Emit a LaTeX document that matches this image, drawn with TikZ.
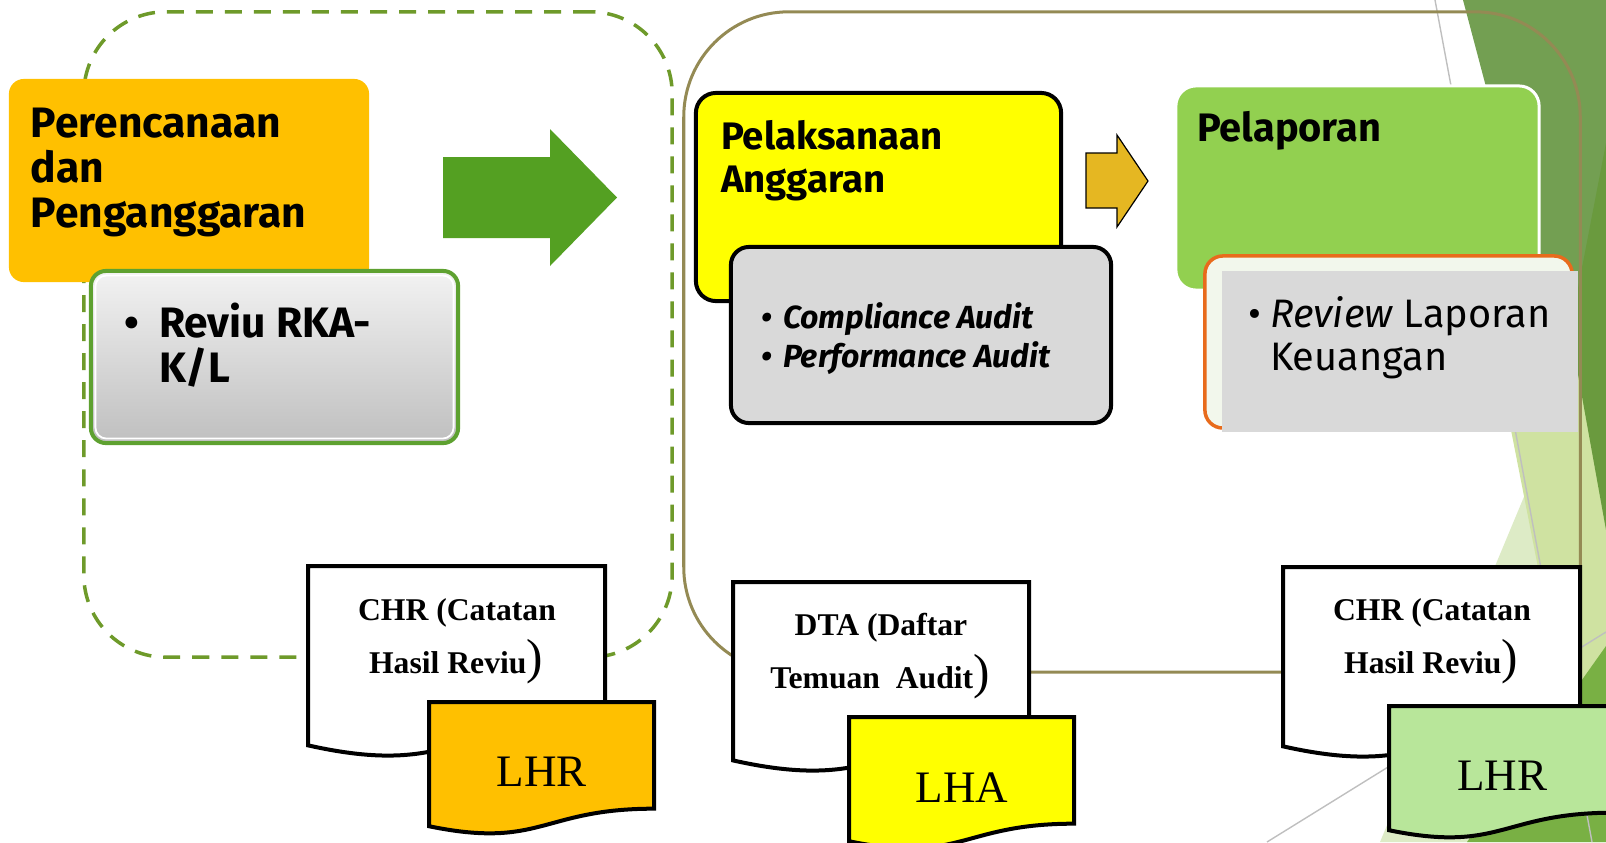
\documentclass[tikz,border=0pt]{standalone}
\usepackage{fontspec}
\setmainfont{Fira Sans}
\newfontfamily\serifdoc{Liberation Serif}
\usetikzlibrary{calc}

% palette
\definecolor{cOrange}{HTML}{FFC000}
\definecolor{cYellow}{HTML}{FFFF00}
\definecolor{cGreen}{HTML}{92D050}
\definecolor{cGray}{HTML}{D9D9D9}
\definecolor{cArrow}{HTML}{54A022}
\definecolor{cGold}{HTML}{E5B722}
\definecolor{cOlive}{HTML}{948A54}
\definecolor{cDash}{HTML}{6E9A2A}
\definecolor{cFrameGreen}{HTML}{5EA130}
\definecolor{cOrangeLine}{HTML}{E86B1C}
\definecolor{cPaleFill}{HTML}{F2F7EC}
\definecolor{cLHRgreen}{HTML}{B8E69A}
\definecolor{bgA}{HTML}{739F52}
\definecolor{bgB}{HTML}{6A9A3E}
\definecolor{bgP1}{HTML}{DDEBC6}
\definecolor{bgP2}{HTML}{CFE2A1}
\definecolor{bgC}{HTML}{79B044}
\definecolor{bgLine}{HTML}{BFBFBF}

% type sizes
\newcommand\fTitle{\fontsize{12.1pt}{14pt}\selectfont\bfseries}
\newcommand\fStage{\fontsize{10.9pt}{13pt}\selectfont\bfseries}
\newcommand\fAudit{\fontsize{9.1pt}{10pt}\selectfont\bfseries\itshape}
\newcommand\fReport{\fontsize{11.3pt}{13pt}\selectfont\bfseries}
\newcommand\fReview{\fontsize{11.3pt}{13pt}\selectfont}
\newcommand\fDoc{\fontsize{9pt}{11pt}\selectfont\serifdoc\bfseries}
\newcommand\fParen{\fontsize{14pt}{14pt}\selectfont\serifdoc\mdseries}
\newcommand\fLH{\fontsize{12.8pt}{14pt}\selectfont\serifdoc}

% flowchart "document" outline: name, left, top, width, height, fill
\newcommand\DocShape[6]{%
  \draw[docline, fill=#6] (#2,#3) -- ({#2+#4},#3) -- ({#2+#4},{#3+0.802*#5})
    .. controls ({#2+0.5*#4},{#3+0.802*#5}) and ({#2+0.5*#4},{#3+1.1075*#5}) ..
    (#2,{#3+0.934*#5}) -- cycle;
  \coordinate (#1) at ({#2+0.5*#4},{#3+0.5*#5});
}

\begin{document}
\begin{tikzpicture}[x=0.01cm,y=-0.01cm,
  every node/.style={inner sep=0pt, outer sep=0pt},
  dashframe/.style={rectangle, draw=cDash, line width=0.035cm,
    dash pattern=on 0.17cm off 0.12cm, rounded corners=0.82cm},
  oliveframe/.style={rectangle, draw=cOlive, line width=0.03cm, rounded corners=1.05cm},
  stagebox/.style={rectangle, rounded corners=0.15cm},
  docline/.style={draw=black, line width=0.04cm},
  lblw/.style={anchor=base west},
  lblc/.style={anchor=base},
  bgline/.style={draw=bgLine, line width=0.014cm}
]
\useasboundingbox (0,0) rectangle (1606,842);
\clip (0,0) rectangle (1606,842);

% decorative facets on the right edge
\fill[bgA] (1463,0) -- (1606,0) -- (1606,540) -- cycle;
\fill[bgP1] (1606,300) -- (1380,842) -- (1606,842) -- cycle;
\fill[bgP2] (1606,280) -- (1510,425) -- (1592,842) -- (1606,842) -- cycle;
\fill[bgB] (1606,143) -- (1570,330) -- (1606,530) -- cycle;
\fill[bgC] (1606,646) -- (1467,842) -- (1606,842) -- cycle;
\draw[bgline] (1435,0) -- (1592,842);
\draw[bgline] (1267,842) -- (1606,632);

% phase frames
\node[dashframe, minimum width=5.88cm, minimum height=6.45cm] (planframe) at (378,334.5) {};
\node[oliveframe, minimum width=8.96cm, minimum height=6.60cm] (auditframe) at (1132,342) {};

% block arrow between the two phases
\fill[cArrow] (443,157) -- (550,157) -- (550,129) -- (617,197.5) -- (550,266)
  -- (550,238) -- (443,238) -- cycle;

% planning stage
\node[stagebox, fill=cOrange, minimum width=3.60cm, minimum height=2.03cm] (plan) at (189,180.5) {};
\node[lblw, font=\fTitle] (plan1) at (31,137) {Perencanaan};
\node[lblw, font=\fTitle] (plan2) at (31,182) {dan};
\node[lblw, font=\fTitle] (plan3) at (31,227) {Penganggaran};

\node[stagebox, top color=white!95!black, bottom color=black!25, draw=cFrameGreen,
  line width=0.04cm, minimum width=3.67cm, minimum height=1.72cm] (rka) at (274.5,357) {};
\draw[white, line width=0.018cm, rounded corners=0.11cm]
  ($(rka.north west)+(4.5,4.5)$) rectangle ($(rka.south east)+(-4.5,-4.5)$);
\node[lblc, font=\fTitle] (rkab) at (132,337) {•};
\node[lblw, font=\fTitle] (rka1) at (159,337) {Reviu RKA-};
\node[lblw, font=\fTitle] (rka2) at (159,382) {K/L};

% execution stage
\node[stagebox, rounded corners=0.2cm, fill=cYellow, draw=black, line width=0.04cm,
  minimum width=3.65cm, minimum height=2.08cm] (exec) at (878.5,197) {};
\node[lblw, font=\fStage] (exec1) at (721,149) {Pelaksanaan};
\node[lblw, font=\fStage] (exec2) at (721,192) {Anggaran};

\node[stagebox, rounded corners=0.18cm, fill=cGray, draw=black, line width=0.04cm,
  minimum width=3.80cm, minimum height=1.76cm] (audit) at (921,335) {};
\node[lblc, font=\fAudit] (auditb1) at (767,328) {•};
\node[lblw, font=\fAudit] (audit1) at (783,328) {Compliance Audit};
\node[lblc, font=\fAudit] (auditb2) at (767,367) {•};
\node[lblw, font=\fAudit] (audit2) at (783,367) {Performance Audit};

% small block arrow towards reporting
\filldraw[fill=cGold, draw=black, line width=0.012cm] (1086,153) -- (1117,153)
  -- (1117,135) -- (1148,181) -- (1117,227) -- (1117,208) -- (1086,208) -- cycle;

% reporting stage
\node[stagebox, rounded corners=0.2cm, fill=cGreen, draw=white, line width=0.03cm,
  minimum width=3.63cm, minimum height=2.04cm] (report) at (1357.5,188) {};
\node[lblw, font=\fReport] (report1) at (1197,141) {Pelaporan};

\node[stagebox, rounded corners=0.18cm, fill=cPaleFill, draw=cOrangeLine, line width=0.035cm,
  minimum width=3.67cm, minimum height=1.72cm] (review) at (1388.5,342) {};
\node[rectangle, fill=cGray, minimum width=3.56cm, minimum height=1.61cm] (reviewfill) at (1400,351.5) {};
\node[lblc, font=\fReview] (reviewb) at (1255,327) {•};
\node[lblw, font=\fReview] (review1) at (1270,327) {\textit{Review} Laporan};
\node[lblw, font=\fReview] (review2) at (1270,370) {Keuangan};

% output documents
\DocShape{chrA}{308}{566}{297}{192}{white}
\node[lblc, font=\fDoc] (chrA1) at (457,620) {CHR (Catatan};
\node[lblc, font=\fDoc] (chrA2) at (456,673) {Hasil Reviu{\fParen)}};
\DocShape{lhrA}{429}{702}{225}{133}{cOrange}
\node[lblc, font=\fLH] (lhrA1) at (542,786) {LHR};

\DocShape{dta}{733}{582}{296}{191}{white}
\node[lblc, font=\fDoc] (dta1) at (881,635) {DTA (Daftar};
\node[lblc, font=\fDoc] (dta2) at (880,688) {Temuan~~Audit{\fParen)}};
\DocShape{lha}{849}{717}{225}{133}{cYellow}
\node[lblc, font=\fLH] (lha1) at (962,802) {LHA};

\DocShape{chrB}{1283}{567}{297}{192}{white}
\node[lblc, font=\fDoc] (chrB1) at (1432,620) {CHR (Catatan};
\node[lblc, font=\fDoc] (chrB2) at (1431,673) {Hasil Reviu{\fParen)}};
\DocShape{lhrB}{1389}{706}{225}{133}{cLHRgreen}
\node[lblc, font=\fLH] (lhrB1) at (1502,790) {LHR};
\end{tikzpicture}
\end{document}
